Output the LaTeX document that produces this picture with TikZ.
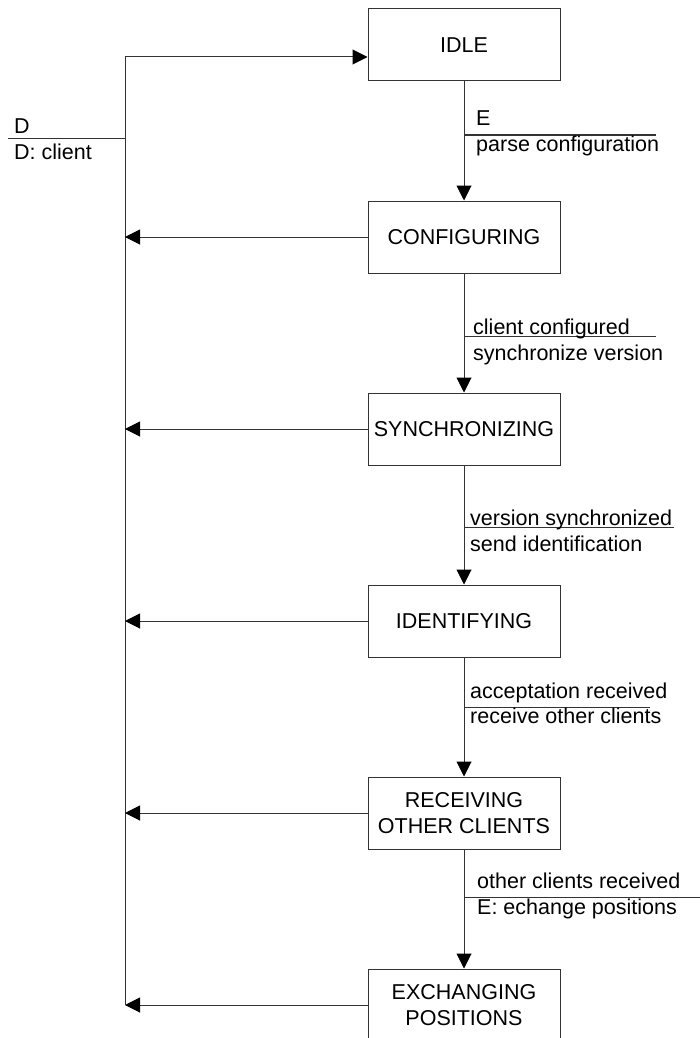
\documentclass[tikz,border=0pt]{standalone}
\usepackage{fontspec}
\setmainfont{Liberation Sans}
\usetikzlibrary{arrows.meta}
\newcommand\diagfont{\fontsize{21.5}{25.6}\selectfont}
\begin{document}
\begin{tikzpicture}[x=1pt,y=-1pt,
  line/.style={draw=black!80, line width=1pt},
  state/.style={line, minimum width=192pt, minimum height=72pt, inner sep=0pt,
                align=center, font=\diagfont},
  tip/.style={-{Triangle[length=15pt,width=15pt,color=black,fill=black]}},
  lbl/.style={anchor=base west, inner sep=0pt, font=\diagfont}]
\useasboundingbox (0,0) rectangle (700,1038);
\clip (0,0) rectangle (700,1038);

% states
\node[state] (idle) at (464,45)   {IDLE};
\node[state] (conf) at (464,237)  {CONFIGURING};
\node[state] (sync) at (464,429)  {SYNCHRONIZING};
\node[state] (iden) at (464,621)  {IDENTIFYING};
\node[state] (recv) at (464,813)  {RECEIVING\\OTHER CLIENTS};
\node[state] (exch) at (464,1005) {EXCHANGING\\POSITIONS};

% forward transitions
\draw[line,tip] (idle.south) -- (conf.north);
\draw[line,tip] (conf.south) -- (sync.north);
\draw[line,tip] (sync.south) -- (iden.north);
\draw[line,tip] (iden.south) -- (recv.north);
\draw[line,tip] (recv.south) -- (exch.north);

% the D bus on the left
\coordinate (busTop) at (125,57);
\coordinate (busBot) at (125,1005);
\draw[line] (busTop) -- (busBot);
\draw[line,tip] (busTop) -- (busTop -| idle.west);
\foreach \s in {conf,sync,iden,recv,exch}
  \draw[line,tip] (\s.west) -- (\s.west -| busTop);

% D label
\coordinate (dL) at (8,138);
\draw[line] (dL) -- (dL -| busTop);
\node[lbl] (d1) at (14,134) {D};
\node[lbl] (d2) at (14,159) {D: client};

% transition labels: event above the bar, action below
\coordinate (s1) at (464,135); \coordinate (s1e) at (656,135);
\draw[line] (s1) -- (s1e);
\node[lbl] (t1a) at (476,125) {E};
\node[lbl] (t1b) at (476,151) {parse configuration};

\coordinate (s2) at (464,336); \coordinate (s2e) at (656,336);
\draw[line] (s2) -- (s2e);
\node[lbl] (t2a) at (473,334) {client configured};
\node[lbl] (t2b) at (473,360) {synchronize version};

\coordinate (s3) at (464,527); \coordinate (s3e) at (674,527);
\draw[line] (s3) -- (s3e);
\node[lbl] (t3a) at (470,525) {version synchronized};
\node[lbl] (t3b) at (470,551) {send identification};

\coordinate (s4) at (464,707); \coordinate (s4e) at (650,707);
\draw[line] (s4) -- (s4e);
\node[lbl] (t4a) at (470,698) {acceptation received};
\node[lbl] (t4b) at (470,723) {receive other clients};

\coordinate (s5) at (464,897); \coordinate (s5e) at (700,897);
\draw[line] (s5) -- (s5e);
\node[lbl] (t5a) at (477,888) {other clients received};
\node[lbl] (t5b) at (477,914) {E: echange positions};
\end{tikzpicture}
\end{document}
